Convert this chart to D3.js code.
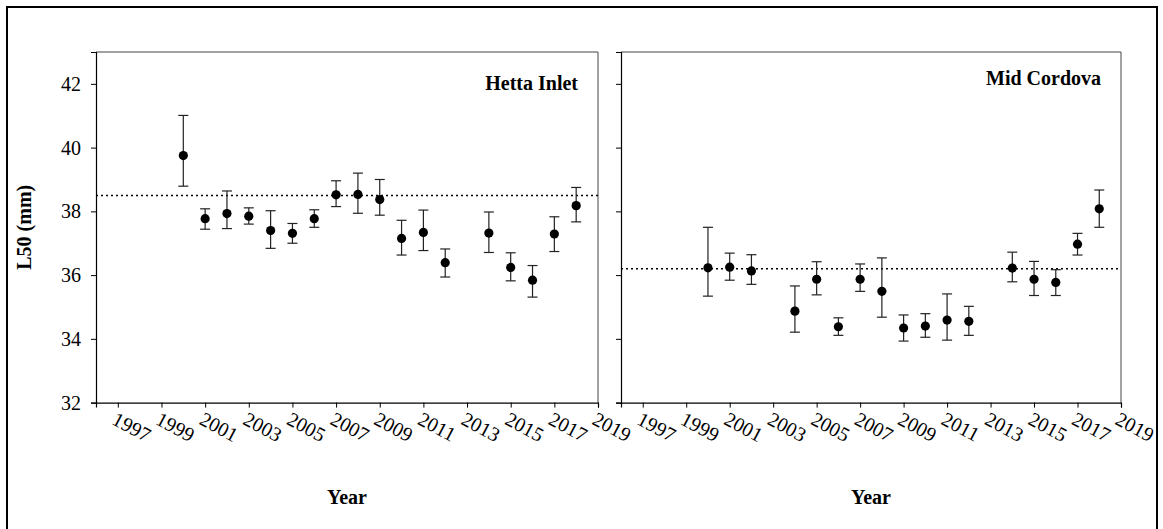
<!DOCTYPE html>
<html>
<head>
<meta charset="utf-8">
<script src="https://cdn.jsdelivr.net/npm/d3@7"></script>
<style>
  html, body { margin: 0; padding: 0; background: #fff; }
  svg { display: block; }
  text { font-family: "Liberation Serif", "Times New Roman", serif; fill: #000; }
</style>
</head>
<body>
<svg id="chart" width="1163" height="529"></svg>
<script>
// L50 estimates (mm) with confidence bounds, by year, for two sites
const hettaYears = [2000, 2001, 2002, 2003, 2004, 2005, 2006, 2007, 2008, 2009, 2010, 2011, 2012, 2014, 2015, 2016, 2017, 2018];
const hettaL50   = [39.75, 37.77, 37.93, 37.85, 37.40, 37.31, 37.77, 38.52, 38.53, 38.37, 37.15, 37.34, 36.39, 37.32, 36.24, 35.84, 37.29, 38.18];
const hettaUpper = [41.01, 38.08, 38.64, 38.11, 38.02, 37.62, 38.05, 38.96, 39.20, 39.00, 37.72, 38.04, 36.82, 37.98, 36.70, 36.30, 37.83, 38.75];
const hettaLower = [38.79, 37.44, 37.46, 37.60, 36.84, 37.00, 37.50, 38.15, 37.94, 37.88, 36.63, 36.77, 35.94, 36.71, 35.82, 35.31, 36.74, 37.67];
const hettaMean  = 38.5;

const cordovaYears = [2000, 2001, 2002, 2004, 2005, 2006, 2007, 2008, 2009, 2010, 2011, 2012, 2014, 2015, 2016, 2017, 2018];
const cordovaL50   = [36.23, 36.25, 36.13, 34.87, 35.87, 34.38, 35.87, 35.49, 34.34, 34.40, 34.59, 34.55, 36.22, 35.87, 35.77, 36.97, 38.08];
const cordovaUpper = [37.50, 36.69, 36.64, 35.66, 36.42, 34.66, 36.35, 36.54, 34.75, 34.79, 35.41, 35.02, 36.72, 36.43, 36.17, 37.31, 38.67];
const cordovaLower = [35.34, 35.84, 35.71, 34.21, 35.38, 34.11, 35.49, 34.68, 33.93, 34.05, 33.96, 34.11, 35.79, 35.36, 35.36, 36.63, 37.50];
const cordovaMean  = 36.2;

const yearTicks = [1997, 1999, 2001, 2003, 2005, 2007, 2009, 2011, 2013, 2015, 2017, 2019];
const l50Ticks  = [32, 34, 36, 38, 40, 42];

const svg = d3.select("#chart");

// outer frame
svg.append("rect")
  .attr("x", 7).attr("y", 7)
  .attr("width", 1150).attr("height", 540)
  .attr("fill", "none").attr("stroke", "#000").attr("stroke-width", 2);

const plotTop = 52, plotBottom = 402.6;
const y = d3.scaleLinear().domain([32, 43]).range([plotBottom, plotTop]);

function panel(opts) {
  const x = d3.scaleLinear().domain([1996, 2019]).range([opts.left, opts.right]);
  const g = svg.append("g");

  // frame top/right
  g.append("path")
    .attr("d", `M${opts.left},${plotTop}H${opts.right}V${plotBottom}`)
    .attr("fill", "none").attr("stroke", "#444").attr("stroke-width", 1);

  // y axis
  const yAxis = d3.axisLeft(y).tickValues(l50Ticks).tickSize(5).tickPadding(10)
    .tickFormat(opts.showYLabels ? d3.format("d") : () => "");
  const ya = g.append("g").attr("transform", `translate(${opts.left},0)`).call(yAxis);
  ya.select(".domain").attr("stroke", "#000").attr("stroke-width", 1.2);
  ya.selectAll(".tick line").attr("stroke", "#000");
  ya.selectAll(".tick text").style("font-size", "20px").attr("fill", "#000")
    .style("font-family", "'Liberation Serif', serif");

  // x axis
  const xAxis = d3.axisBottom(x).tickValues(yearTicks).tickSize(5).tickFormat(() => "");
  const xa = g.append("g").attr("transform", `translate(0,${plotBottom})`).call(xAxis);
  xa.select(".domain").attr("stroke", "#000").attr("stroke-width", 1.2);
  xa.selectAll(".tick line").attr("stroke", "#000");

  // rotated year labels
  g.selectAll("text.year").data(yearTicks).enter().append("text")
    .attr("class", "year")
    .attr("transform", d => `translate(${x(d) - 7},${plotBottom + 21}) rotate(28)`)
    .attr("text-anchor", "start")
    .style("font-size", "20px")
    .text(d => d);

  // mean reference line
  g.append("line")
    .attr("x1", opts.left).attr("x2", opts.right)
    .attr("y1", y(opts.mean)).attr("y2", y(opts.mean))
    .attr("stroke", "#000").attr("stroke-width", 1.6)
    .attr("stroke-dasharray", "2,3");

  const pts = opts.years.map((yr, i) => ({ yr, v: opts.vals[i], hi: opts.hi[i], lo: opts.lo[i] }));

  // error bars
  const eb = g.selectAll("g.eb").data(pts).enter().append("g").attr("class", "eb")
    .attr("stroke", "#222").attr("stroke-width", 1.2);
  eb.append("line")
    .attr("x1", d => x(d.yr)).attr("x2", d => x(d.yr))
    .attr("y1", d => y(d.hi)).attr("y2", d => y(d.lo));
  eb.append("line")
    .attr("x1", d => x(d.yr) - 5).attr("x2", d => x(d.yr) + 5)
    .attr("y1", d => y(d.hi)).attr("y2", d => y(d.hi));
  eb.append("line")
    .attr("x1", d => x(d.yr) - 5).attr("x2", d => x(d.yr) + 5)
    .attr("y1", d => y(d.lo)).attr("y2", d => y(d.lo));

  // points
  g.selectAll("circle").data(pts).enter().append("circle")
    .attr("cx", d => x(d.yr)).attr("cy", d => y(d.v))
    .attr("r", 4.6).attr("fill", "#000");

  // site title
  g.append("text")
    .attr("x", opts.right - 20).attr("y", opts.titleY)
    .attr("text-anchor", "end")
    .style("font-size", "20px").style("font-weight", "bold")
    .text(opts.title);

  // x axis title
  g.append("text")
    .attr("x", (opts.left + opts.right) / 2).attr("y", 504)
    .attr("text-anchor", "middle")
    .style("font-size", "20px").style("font-weight", "bold")
    .text("Year");
}

panel({ left: 96, right: 598, years: hettaYears, vals: hettaL50, hi: hettaUpper, lo: hettaLower,
        mean: hettaMean, title: "Hetta Inlet", titleY: 90, showYLabels: true });
panel({ left: 621, right: 1121, years: cordovaYears, vals: cordovaL50, hi: cordovaUpper, lo: cordovaLower,
        mean: cordovaMean, title: "Mid Cordova", titleY: 85, showYLabels: false });

// y axis title
svg.append("text")
  .attr("transform", `translate(31,${(plotTop + plotBottom) / 2}) rotate(-90)`)
  .attr("text-anchor", "middle")
  .style("font-size", "20px").style("font-weight", "bold")
  .text("L50 (mm)");
</script>
</body>
</html>
